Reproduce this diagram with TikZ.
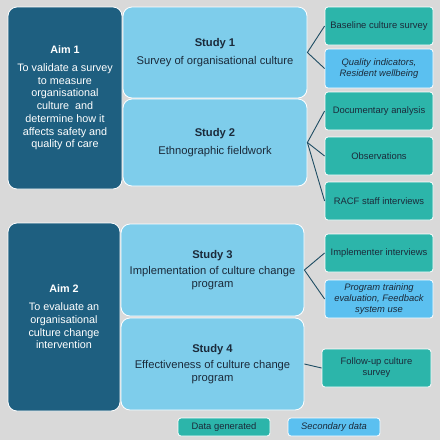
\documentclass[tikz,border=0pt]{standalone}
\usepackage{fontspec}
\setmainfont{Liberation Sans}
\definecolor{bg}{HTML}{D9D9D9}
\definecolor{aimc}{HTML}{1E5F80}
\definecolor{studyc}{HTML}{7ECDEB}
\definecolor{tealc}{HTML}{2CB5AA}
\definecolor{secc}{HTML}{5BC0F0}
\definecolor{linec}{HTML}{1E4D63}
\definecolor{txt}{HTML}{1B2A3A}
\begin{document}
\begin{tikzpicture}[x=1pt,y=-1pt,
  base/.style={draw=white,line width=0.8pt,inner sep=0pt,align=center},
  aimbox/.style={base,fill=aimc,text=white,rounded corners=9pt,font=\fontsize{10.8}{12.7}\selectfont},
  studybox/.style={base,fill=studyc,text=txt,rounded corners=9pt,font=\fontsize{11.2}{12.7}\selectfont},
  databox/.style={base,fill=tealc,text=txt,rounded corners=3pt,font=\fontsize{9.4}{11}\selectfont},
  secbox/.style={base,fill=secc,text=txt,rounded corners=3pt,font=\fontsize{9.4}{11}\selectfont\itshape},
  conn/.style={draw=linec,line width=0.9pt}]
\fill[bg] (0,0) rectangle (440,440);
\useasboundingbox (0,0) rectangle (440,440);
% Aims
\node[aimbox,minimum width=114pt,minimum height=182pt] (aim1) at (65,98)
 {\textbf{Aim 1}\\[5pt]To validate a survey\\to measure\\organisational\\culture \ and\\determine how it\\affects safety and\\quality of care};
\node[aimbox,minimum width=112pt,minimum height=188pt] (aim2) at (64,317)
 {\textbf{Aim 2}\\[5pt]To evaluate an\\organisational\\culture change\\intervention};
% Studies
\node[studybox,minimum width=184pt,minimum height=91pt] (s1) at (215,52.5)
 {\textbf{Study 1}\\[5pt]Survey of organisational culture};
\node[studybox,minimum width=184pt,minimum height=87pt] (s2) at (215,142.5)
 {\textbf{Study 2}\\[5pt]Ethnographic fieldwork};
\node[studybox,minimum width=183pt,minimum height=92pt] (s3) at (212.5,270)
 {\textbf{Study 3}\\[4pt]Implementation of culture change\\program};
\node[studybox,minimum width=183pt,minimum height=92pt] (s4) at (212.5,364)
 {\textbf{Study 4}\\[4pt]Effectiveness of culture change\\program};
% Data boxes
\node[databox,minimum width=108pt,minimum height=38pt] (d1) at (379,26) {Baseline culture survey};
\node[secbox,minimum width=108pt,minimum height=39pt] (d2) at (379,68.5) {Quality indicators,\\Resident wellbeing};
\node[databox,minimum width=108pt,minimum height=38pt] (d3) at (379,111) {Documentary analysis};
\node[databox,minimum width=108pt,minimum height=38pt] (d4) at (379,156) {Observations};
\node[databox,minimum width=108pt,minimum height=38pt] (d5) at (379,201) {RACF staff interviews};
\node[databox,minimum width=108pt,minimum height=38pt] (d6) at (379,253) {Implementer interviews};
\node[secbox,minimum width=108pt,minimum height=38pt] (d7) at (379,299) {Program training\\evaluation, Feedback\\system use};
\node[databox,minimum width=109pt,minimum height=38pt] (d8) at (376.5,368) {Follow-up culture\\survey};
% Legend
\node[databox,minimum width=92pt,minimum height=18pt] (lg1) at (224,427) {Data generated};
\node[secbox,minimum width=92pt,minimum height=18pt] (lg2) at (334,427) {Secondary data};
% Connectors
\draw[conn] (d1.west) -- (s1.east) -- (d2.west);
\draw[conn] (d3.west) -- (s2.east) -- (d4.west);
\draw[conn] (s2.east) -- (d5.west);
\draw[conn] (d6.west) -- (s3.east) -- (d7.west);
\draw[conn] (s4.east) -- (d8.west);
\end{tikzpicture}
\end{document}
